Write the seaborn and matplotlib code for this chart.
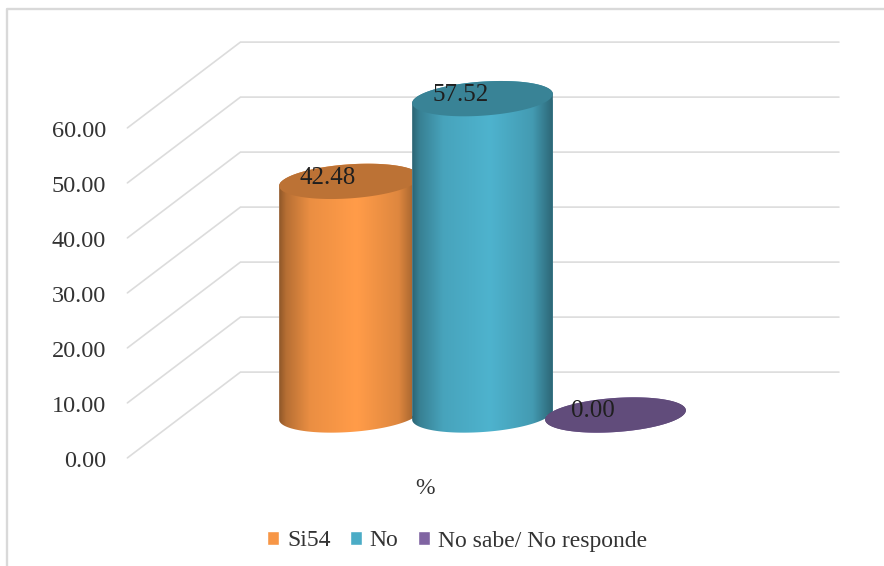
import numpy as np
import pandas as pd
import matplotlib
matplotlib.use("Agg")
import matplotlib.pyplot as plt
from matplotlib.path import Path
import seaborn as sns

# Survey answers, in percent
categories = ["Si54", "No", "No sabe/ No responde"]
values = [42.48, 57.52, 0.00]
base_colors = ["#F79646", "#4BACC6", "#8064A2"]
axis_ticks = [0, 10, 20, 30, 40, 50, 60]
axis_title = "%"

# Scale of the single axes that fills the canvas
PX_W, PX_H = 884, 566
PX_PER_CAT = 133.0
PX_PER_UNIT = 5.5
ORIGIN_X, ORIGIN_Y = 349.5, 415.0

# Oblique depth of the floor, in axis units
DEPTH = 7.8
WALL_LEFT, WALL_RIGHT, FRONT_LEFT = -0.82, 3.68, -1.67

# Cylinder cap shape, in pixels
CAP_MINOR = 17.0
CAP_TILT = np.radians(4.0)
BAR_WIDTH = 141.0 / PX_PER_CAT

# Horizontal shading across a cylinder
SHADE_POS = [0.0, 0.05, 0.22, 0.55, 0.85, 1.0]
SHADE_VAL = [0.58, 0.74, 0.95, 1.04, 0.90, 0.58]
CAP_SHADE = 0.76

GRID = "#DCDCDC"
TEXT = "#333333"

sns.set_theme(style="white")
plt.rcParams["font.family"] = ["Liberation Serif", "DejaVu Serif"]

fig = plt.figure(figsize=(PX_W / 100, PX_H / 100), dpi=100)
ax = fig.add_axes([0, 0, 1, 1])

df = pd.DataFrame({"categoria": categories, "valor": values})
sns.barplot(data=df, x="categoria", y="valor", hue="categoria", order=categories,
            hue_order=categories, palette=base_colors, width=BAR_WIDTH,
            saturation=1, errorbar=None, legend=True, ax=ax)


def cap_points(cx, cy, t):
    """Tilted ellipse around (cx, cy), returned in data coordinates."""
    a = BAR_WIDTH * PX_PER_CAT / 2
    dx = a * np.cos(t) * np.cos(CAP_TILT) - CAP_MINOR * np.sin(t) * np.sin(CAP_TILT)
    dy = a * np.cos(t) * np.sin(CAP_TILT) + CAP_MINOR * np.sin(t) * np.cos(CAP_TILT)
    return np.column_stack([cx + dx / PX_PER_CAT, cy + dy / PX_PER_UNIT])


profile = np.linspace(0, 1, 256)
shade = np.interp(profile, SHADE_POS, SHADE_VAL)

for i, (bar, value, color) in enumerate(zip(ax.patches, values, base_colors)):
    cx = bar.get_x() + bar.get_width() / 2
    rgb = np.array(matplotlib.colors.to_rgb(color))
    lower = cap_points(cx, 0, np.linspace(np.pi, 2 * np.pi, 80))
    upper = cap_points(cx, value, np.linspace(0, np.pi, 80))
    outline = np.vstack([lower, upper, lower[:1]])
    body = Path(outline, closed=True)

    bar.set_zorder(3 + i * 3)
    bar.set_clip_path(body, transform=ax.transData)

    gradient = np.clip(shade[None, :, None] * rgb[None, None, :], 0, 1)
    margin = 2 * CAP_MINOR / PX_PER_UNIT
    image = ax.imshow(gradient, aspect="auto", interpolation="bilinear",
                      extent=(bar.get_x(), bar.get_x() + bar.get_width(),
                              -margin, value + margin),
                      zorder=4 + i * 3)
    image.set_clip_path(body, transform=ax.transData)

    cap = cap_points(cx, value, np.linspace(0, 2 * np.pi, 160))
    ax.fill(cap[:, 0], cap[:, 1], color=rgb * CAP_SHADE, lw=0, zorder=5 + i * 3)

    ax.annotate(f"{value:.2f}", xy=(cx, value), xytext=(-16, 2.6),
                textcoords="offset points", ha="center", va="center",
                fontsize=18, color="#1F1F1F", zorder=20)

# Back wall and oblique floor lines
for tick in axis_ticks:
    ax.plot([FRONT_LEFT, WALL_LEFT, WALL_RIGHT],
            [tick - DEPTH, tick + DEPTH, tick + DEPTH],
            color=GRID, lw=1.2, zorder=1, solid_joinstyle="miter")
    ax.text(-1.83, tick - DEPTH - 0.15, f"{tick:.2f}", ha="right", va="center_baseline",
            fontsize=17.5, color=TEXT)

ax.text(0.565, -13.4, axis_title, ha="center", va="center", fontsize=17, color=TEXT)

ax.set_xlim(-ORIGIN_X / PX_PER_CAT, (PX_W - ORIGIN_X) / PX_PER_CAT)
ax.set_ylim((ORIGIN_Y - PX_H) / PX_PER_UNIT, ORIGIN_Y / PX_PER_UNIT)
ax.set_axis_off()

# Chart frame: only the left and top edges are drawn
frame_x, frame_y = 7.5 / PX_W, 1 - 9 / PX_H
ax.plot([frame_x, frame_x, 1], [0, frame_y, frame_y], transform=ax.transAxes,
        color="#D9D9D9", lw=1.7, zorder=0, clip_on=False)

sns.move_legend(ax, loc="center", bbox_to_anchor=(457 / PX_W, 1 - 541 / PX_H), ncol=3,
                title=None, frameon=False, fontsize=17, labelcolor=TEXT,
                handlelength=0.52, handleheight=0.52, handletextpad=0.32,
                columnspacing=0.82, borderpad=0, borderaxespad=0)

fig.savefig("out.png", dpi=100, facecolor="white")
